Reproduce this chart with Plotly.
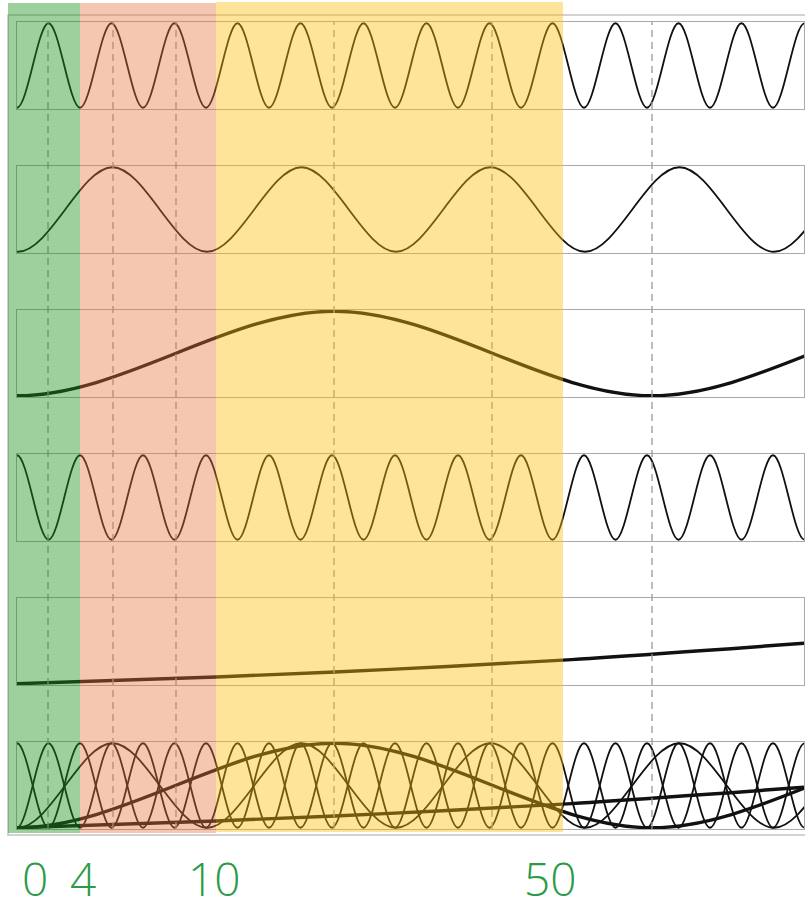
import plotly.graph_objects as go

# ---------------- data (x = horizontal position, y = normalised 0..1) ----------------
# extrema (points just outside the visible window keep the curve ends smooth)
row1_x = [-46, -14.5, 17, 48.5, 80, 111.5, 143, 174.5, 206, 237.5, 269, 300.5, 332, 363.5, 395,
          426.5, 458, 489.5, 521, 552.5, 584, 615.5, 647, 678.5, 710, 741.5, 773, 804.5, 836, 867.5]
row1_y = [0, 1, 0, 1, 0, 1, 0, 1, 0, 1, 0, 1, 0, 1, 0, 1, 0, 1, 0, 1, 0, 1, 0, 1, 0, 1, 0, 1, 0, 1]

row2_x = [-171, -76.5, 18, 112.5, 207, 301.5, 396, 490.5, 585, 679.5, 774, 868.5, 963]
row2_y = [0, 1, 0, 1, 0, 1, 0, 1, 0, 1, 0, 1, 0]

row3_x = [-618, -300, 17, 334, 652, 970, 1288]
row3_y = [0, 1, 0, 1, 0, 1, 0]

row4_x = row1_x
row4_y = [1, 0, 1, 0, 1, 0, 1, 0, 1, 0, 1, 0, 1, 0, 1, 0, 1, 0, 1, 0, 1, 0, 1, 0, 1, 0, 1, 0, 1, 0]

row5_x = [17, 216, 390, 563, 805]
row5_y = [0.0, 0.08, 0.17, 0.28, 0.48]

dash_positions = [48, 113, 176, 334, 492, 652]
band_edges = [8, 80, 216, 563]
band_labels = ["0", "4", "10", "50"]
label_centers = [34.5, 83, 215, 550]

# ---------------- geometry ----------------
W, H = 805, 911
ML, MR, MT, MB = 8, 0, 2, 76
PW = W - ML - MR
PH = H - MT - MB


def px_x(p):
    return (p - ML) / PW


def px_y(p):
    return (H - MB - p) / PH


X_MIN, X_MAX = 17, 804
ROW_TOPS = [22, 166, 310, 454, 598, 742]
ROW_H = 87

series = [
    (row1_x, row1_y, 1.8),
    (row2_x, row2_y, 1.8),
    (row3_x, row3_y, 3.4),
    (row4_x, row4_y, 1.8),
    (row5_x, row5_y, 3.4),
]

fig = go.Figure()
for i, (xs, ys, w) in enumerate(series):
    for r in (i + 1, 6):
        fig.add_trace(go.Scatter(
            x=xs, y=ys, mode="lines",
            line=dict(color="#111111", width=w, shape="spline", smoothing=1),
            xaxis="x" if r == 1 else f"x{r}",
            yaxis="y" if r == 1 else f"y{r}",
            hoverinfo="skip", showlegend=False,
        ))

layout_axes = {}
for r in range(1, 7):
    top = ROW_TOPS[r - 1]
    bot = top + ROW_H
    xname = "xaxis" if r == 1 else f"xaxis{r}"
    yname = "yaxis" if r == 1 else f"yaxis{r}"
    common = dict(showline=True, mirror=True, linecolor="#aaaaaa", linewidth=1,
                  showticklabels=False, showgrid=False, zeroline=False, ticks="",
                  fixedrange=True)
    layout_axes[xname] = dict(domain=[px_x(X_MIN), px_x(X_MAX)], range=[X_MIN, X_MAX],
                              anchor="y" if r == 1 else f"y{r}", **common)
    layout_axes[yname] = dict(domain=[px_y(bot), px_y(top)], range=[-0.015, 1.015],
                              anchor="x" if r == 1 else f"x{r}", **common)

shapes = []
# outer frame
shapes.append(dict(type="rect", xref="paper", yref="paper",
                   x0=px_x(8), x1=px_x(808), y0=px_y(835), y1=px_y(15),
                   line=dict(color="#c4c4c4", width=1.6), layer="below"))
# dashed guide lines
for d in dash_positions:
    shapes.append(dict(type="line", xref="paper", yref="paper",
                       x0=px_x(d), x1=px_x(d), y0=px_y(829), y1=px_y(22),
                       line=dict(color="#999999", width=1.3, dash="7px,5px"), layer="above"))
# coloured bands
band_colors = ["rgba(30,145,30,0.43)", "rgba(230,115,60,0.40)", "rgba(250,190,10,0.42)"]
band_tops = [3, 3, 2]
band_bots = [833, 833, 832]
for k in range(3):
    shapes.append(dict(type="rect", xref="paper", yref="paper",
                       x0=px_x(band_edges[k]), x1=px_x(band_edges[k + 1]),
                       y0=px_y(band_bots[k]), y1=px_y(band_tops[k]),
                       fillcolor=band_colors[k], line=dict(width=0), layer="above"))

annotations = []
for t, c in zip(band_labels, label_centers):
    annotations.append(dict(text=t, x=px_x(c), y=px_y(878), xref="paper", yref="paper",
                            xanchor="center", yanchor="middle", showarrow=False,
                            font=dict(family="Open Sans", size=46, color="#2b9b48", weight=300)))

fig.update_layout(
    width=W, height=H,
    margin=dict(l=ML, r=MR, t=MT, b=MB, pad=0),
    paper_bgcolor="white", plot_bgcolor="rgba(0,0,0,0)",
    showlegend=False,
    shapes=shapes, annotations=annotations,
    **layout_axes,
)

fig.write_html("out.html", config={"displayModeBar": False},
               post_script="document.body.style.margin='0';document.body.style.overflow='hidden';")
